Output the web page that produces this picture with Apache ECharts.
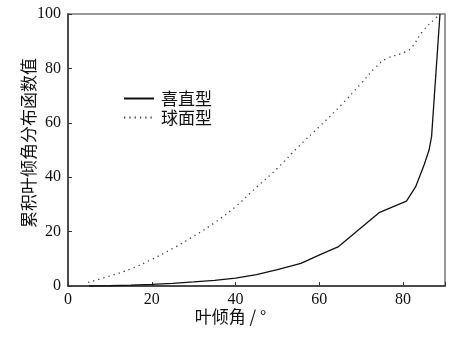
<!DOCTYPE html>
<html><head><meta charset="utf-8">
<script src="https://cdn.jsdelivr.net/npm/echarts@6/dist/echarts.min.js"></script>
<style>html,body{margin:0;padding:0;background:#fff}#c{width:453px;height:338px}</style>
</head><body><div id="c"></div>
<script>
const seriesNames = ['喜直型', '球面型'];
const xTicks = [0, 20, 40, 60, 80];
const yTicks = [0, 20, 40, 60, 80, 100];
const erectAngle = [5, 10, 15, 20, 25, 30, 35, 40, 45, 50, 55.6, 60.6, 64.6, 74.4, 80.8, 83, 85, 86.2, 86.8, 88.8];
const erectValue = [0, 0.1, 0.3, 0.6, 1.0, 1.5, 2.1, 2.9, 4.2, 6.0, 8.3, 11.8, 14.5, 27.1, 31.2, 36.5, 44.5, 50, 55, 100];
const spherAngle = [4.8, 10, 15, 20, 25, 30, 35, 40, 45, 50, 55, 60, 65, 70, 73.5, 76, 80.6, 82.2, 84.6, 87.8, 88.8];
const spherValue = [1.3, 3.7, 6.3, 9.8, 13.8, 18.3, 23.3, 29.2, 36.3, 43.3, 51.2, 58.6, 66.2, 74.5, 80.5, 83.5, 86.1, 88, 93.5, 98.5, 100];

const serif = 'Liberation Serif, Noto Sans CJK SC, serif';
const chart = echarts.init(document.getElementById('c'), null, {renderer: 'canvas'});
const axisLine = {show: true, lineStyle: {color: '#333', width: 1.5}};
chart.setOption({
  animation: false,
  grid: {left: 68, right: 8, top: 14, bottom: 52, show: true, borderColor: '#777', borderWidth: 1.5},
  legend: {
    orient: 'vertical', left: 118, top: 85, itemGap: 2, itemWidth: 30, itemHeight: 12,
    itemStyle: {opacity: 0},
    textStyle: {fontFamily: 'Noto Sans CJK SC', fontSize: 17, color: '#111', padding: [0, 0, 0, 2]},
    data: seriesNames
  },
  xAxis: {
    type: 'value', min: 0, max: 90, interval: 20,
    axisLine: axisLine,
    axisTick: {show: true, inside: true, length: 4, lineStyle: {color: '#333'}},
    splitLine: {show: false},
    axisLabel: {fontFamily: serif, fontSize: 16, color: '#111', margin: 6,
      customValues: xTicks, formatter: v => xTicks.includes(v) ? String(v) : ''},
    name: '叶倾角 / °', nameLocation: 'middle', nameGap: 22, nameMoveOverlap: false,
    nameTextStyle: {fontFamily: 'Noto Sans CJK SC', fontSize: 17, color: '#111', padding: [0, 52, 0, 0]}
  },
  yAxis: {
    type: 'value', min: 0, max: 100, interval: 20,
    axisLine: axisLine,
    axisTick: {show: true, inside: true, length: 4, lineStyle: {color: '#333'}},
    splitLine: {show: false},
    axisLabel: {fontFamily: serif, fontSize: 16, color: '#111', margin: 7},
    name: '累积叶倾角分布函数值', nameLocation: 'middle', nameGap: 31, nameMoveOverlap: false,
    nameTextStyle: {fontFamily: 'Noto Sans CJK SC', fontSize: 17, color: '#111', padding: [0, 0, 0, 14]}
  },
  series: [
    {name: seriesNames[0], type: 'line', symbol: 'none', smooth: false,
     lineStyle: {color: '#111', width: 1.3},
     itemStyle: {color: '#111'},
     data: erectAngle.map((a, i) => [a, erectValue[i]])},
    {name: seriesNames[1], type: 'line', symbol: 'none', smooth: true,
     lineStyle: {color: '#444', width: 1.3, type: [1.3, 4]},
     itemStyle: {color: '#444'},
     data: spherAngle.map((a, i) => [a, spherValue[i]])}
  ]
});
</script></body></html>
